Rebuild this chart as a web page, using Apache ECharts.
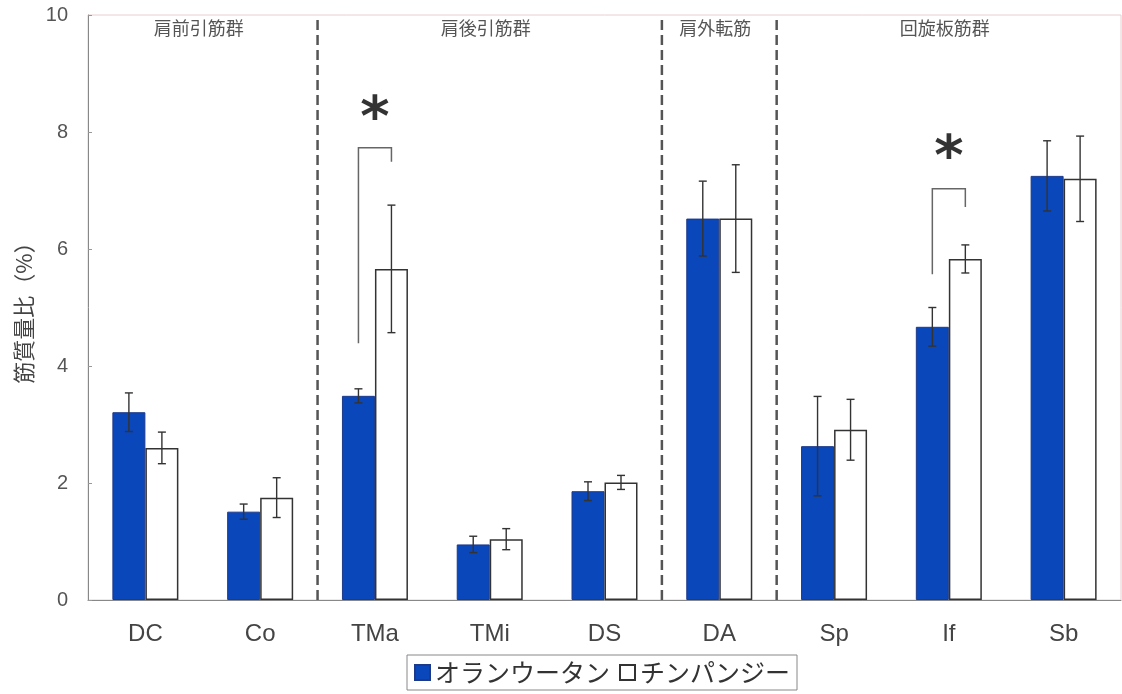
<!DOCTYPE html>
<html><head><meta charset="utf-8">
<script src="https://cdn.jsdelivr.net/npm/echarts@6/dist/echarts.min.js"></script>
<style>html,body{margin:0;padding:0;background:#fff}#c{width:1122px;height:694px}</style>
</head><body><div id="c"></div>
<script>
// ---- data ----
const categories = ['DC', 'Co', 'TMa', 'TMi', 'DS', 'DA', 'Sp', 'If', 'Sb'];
const orangutan    = [3.21, 1.51, 3.49, 0.95, 1.86, 6.52, 2.63, 4.67, 7.25];
const orangutanErr = [0.33, 0.13, 0.12, 0.14, 0.16, 0.64, 0.85, 0.33, 0.60];
const chimp        = [2.60, 1.75, 5.66, 1.04, 2.01, 6.52, 2.91, 5.83, 7.20];
const chimpErr     = [0.27, 0.34, 1.09, 0.18, 0.12, 0.92, 0.52, 0.24, 0.73];
const seriesNames  = ['オランウータン', 'チンパンジー'];
const yAxisName    = '筋質量比（%）';
const yMin = 0, yMax = 10, yStep = 2;
// muscle groups: label and category index span [start, end)
const groupLabels = ['肩前引筋群', '肩後引筋群', '肩外転筋', '回旋板筋群'];
const groupStart  = [0, 2, 5, 6];
const groupEnd    = [2, 5, 6, 9];
// significance markers (category index, bracket left end, bracket top, bracket right end, star level)
const sigIndex  = [2, 7];
const sigLeft   = [4.39, 5.57];
const sigTop    = [7.73, 7.03];
const sigRight  = [7.49, 6.72];
const sigStar   = [8.41, 7.73];
const sigMark   = '*';

// ---- styles ----
const BAR_W = 33;
const BLUE = '#0a47bb';
const TXT = '#444';
const FONT = '"Liberation Sans", "Noto Sans CJK JP", sans-serif';
const JFONT = '"Noto Sans CJK JP", sans-serif';

function errRender(offset) {
  return function (params, api) {
    const i = api.value(0), m = api.value(1), e = api.value(2);
    const hi = api.coord([i, m + e]), lo = api.coord([i, m - e]);
    const x = hi[0] + offset, cap = 4;
    const st = { stroke: '#333', lineWidth: 1.4 };
    return { type: 'group', children: [
      { type: 'line', shape: { x1: x, y1: hi[1], x2: x, y2: lo[1] }, style: st },
      { type: 'line', shape: { x1: x - cap, y1: hi[1], x2: x + cap, y2: hi[1] }, style: st },
      { type: 'line', shape: { x1: x - cap, y1: lo[1], x2: x + cap, y2: lo[1] }, style: st }
    ]};
  };
}

const separators = [];
groupStart.forEach((s, k) => { if (s > 0) separators.push([s]); });
const groupData = groupLabels.map((g, k) => [(groupStart[k] + groupEnd[k]) / 2, k]);
const sigData = sigIndex.map((c, k) => [c, sigLeft[k], sigTop[k], sigRight[k], sigStar[k]]);

const chart = echarts.init(document.getElementById('c'), null, { renderer: 'canvas' });
chart.setOption({
  animation: false,
  backgroundColor: '#fff',
  grid: { left: 88, right: 1, top: 15, bottom: 94, show: true, borderColor: '#e6cfcf', borderWidth: 1 },
  legend: {
    data: seriesNames,
    left: 407, top: 655,
    padding: [5, 7],
    itemWidth: 15, itemHeight: 15, itemGap: 9,
    borderColor: '#888', borderWidth: 1,
    icon: 'rect',
    textStyle: { fontSize: 25, color: '#333', fontFamily: JFONT }
  },
  xAxis: [
    {
      type: 'category', data: categories,
      axisLine: { lineStyle: { color: '#888', width: 1 } },
      axisTick: { inside: true, length: 4, lineStyle: { color: '#999' } },
      axisLabel: { fontSize: 24, color: TXT, fontFamily: FONT, margin: 22 }
    },
    { type: 'value', min: 0, max: categories.length, show: false }
  ],
  yAxis: {
    type: 'value', min: yMin, max: yMax, interval: yStep,
    name: yAxisName, nameLocation: 'middle', nameGap: 53, nameRotate: 90,
    nameTextStyle: { fontSize: 22, color: TXT, fontFamily: JFONT },
    axisLine: { show: true, lineStyle: { color: '#888', width: 1 } },
    axisTick: { show: true, inside: true, length: 4, lineStyle: { color: '#999' } },
    splitLine: { show: false },
    axisLabel: { fontSize: 20, color: '#555', fontFamily: FONT, margin: 20 }
  },
  series: [
    {
      name: seriesNames[0], type: 'bar', data: orangutan, barWidth: BAR_W, barGap: '0%',
      itemStyle: { color: BLUE, borderColor: '#1d3a8a', borderWidth: 1 }
    },
    {
      name: seriesNames[1], type: 'bar', data: chimp, barWidth: BAR_W, barGap: '0%',
      itemStyle: { color: '#fff', borderColor: '#333', borderWidth: 1.5 }
    },
    {
      type: 'custom', z: 5, renderItem: errRender(-BAR_W / 2),
      data: categories.map((c, i) => [i, orangutan[i], orangutanErr[i]])
    },
    {
      type: 'custom', z: 5, renderItem: errRender(BAR_W / 2),
      data: categories.map((c, i) => [i, chimp[i], chimpErr[i]])
    },
    {
      type: 'custom', xAxisIndex: 1, z: 4, silent: true,
      renderItem: function (params, api) {
        const a = api.coord([api.value(0), yMin]), b = api.coord([api.value(0), yMax]);
        return { type: 'line', shape: { x1: a[0], y1: a[1], x2: b[0], y2: b[1] },
          style: { stroke: '#555', lineWidth: 2.5, lineDash: [10, 5] } };
      },
      data: separators
    },
    {
      type: 'custom', xAxisIndex: 1, z: 4, silent: true,
      renderItem: function (params, api) {
        const p = api.coord([api.value(0), yMax]);
        return { type: 'text', x: p[0] - 4, y: p[1] + 13,
          style: { text: groupLabels[api.value(1)], fill: '#555', fontSize: 18, fontFamily: JFONT,
            align: 'center', verticalAlign: 'middle' } };
      },
      data: groupData
    },
    {
      type: 'custom', z: 4, silent: true,
      renderItem: function (params, api) {
        const c = api.value(0);
        const pl = api.coord([c, api.value(1)]), pt = api.coord([c, api.value(2)]),
              pr = api.coord([c, api.value(3)]), ps = api.coord([c, api.value(4)]);
        const xl = pl[0] - BAR_W / 2, xr = pl[0] + BAR_W / 2;
        return { type: 'group', children: [
          { type: 'polyline', shape: { points: [[xl, pl[1]], [xl, pt[1]], [xr, pt[1]], [xr, pr[1]]] },
            style: { stroke: '#666', lineWidth: 1.5, fill: null } },
          { type: 'text', x: ps[0], y: ps[1] + 12,
            style: { text: sigMark, fill: '#333', fontSize: 56, fontWeight: 'bold', fontFamily: '"DejaVu Sans", sans-serif',
              align: 'center', verticalAlign: 'middle' } }
        ]};
      },
      data: sigData
    }
  ]
});
</script></body></html>
